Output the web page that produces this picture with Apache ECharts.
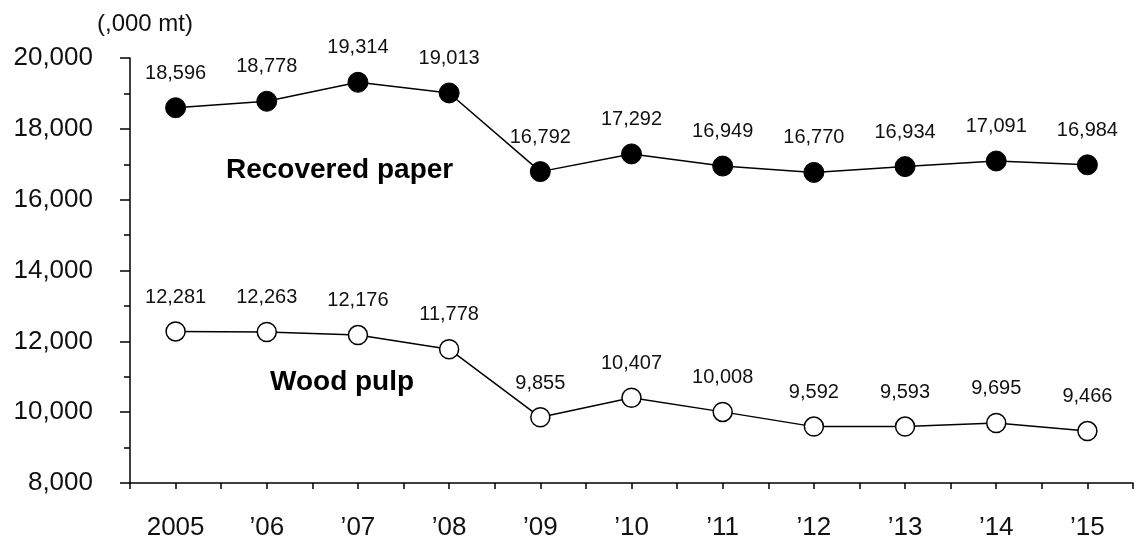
<!DOCTYPE html>
<html>
<head>
<meta charset="utf-8">
<script src="https://cdn.jsdelivr.net/npm/echarts@6/dist/echarts.min.js"></script>
<style>
  html, body { margin: 0; padding: 0; background: #fff; }
  #chart { width: 1136px; height: 541px; }
</style>
</head>
<body>
<div id="chart"></div>
<script>
  // data
  const years = ['2005', '\u201906', '\u201907', '\u201908', '\u201909', '\u201910', '\u201911', '\u201912', '\u201913', '\u201914', '\u201915'];
  const recoveredPaper = [18596, 18778, 19314, 19013, 16792, 17292, 16949, 16770, 16934, 17091, 16984];
  const woodPulp = [12281, 12263, 12176, 11778, 9855, 10407, 10008, 9592, 9593, 9695, 9466];
  const yTicks = { min: 8000, max: 20000, step: 2000 };

  const font = 'Liberation Sans, Arial, sans-serif';
  const fmt = v => v.toLocaleString('en-US');

  const chart = echarts.init(document.getElementById('chart'));

  const valueLabel = {
    show: true,
    position: 'top',
    distance: 14,
    color: '#111',
    fontFamily: font,
    fontSize: 20,
    formatter: p => fmt(p.value)
  };

  chart.setOption({
    animation: false,
    grid: { left: 130, right: 3, top: 58, bottom: 58 },
    graphic: [
      { type: 'text', left: 97, top: 12, style: { text: '(,000 mt)', font: '24px ' + font, fill: '#111' } },
      { type: 'text', left: 226, top: 156, style: { text: 'Recovered paper', font: 'bold 28px ' + font, fill: '#000' } },
      { type: 'text', left: 270, top: 368, style: { text: 'Wood pulp', font: 'bold 28px ' + font, fill: '#000' } }
    ],
    xAxis: [
      {
        type: 'category',
        data: years,
        boundaryGap: true,
        axisLine: { lineStyle: { color: '#000', width: 1.5 } },
        axisTick: { show: false },
        axisLabel: { color: '#111', fontFamily: font, fontSize: 26, margin: 32 },
        splitLine: { show: false }
      },
      {
        // half-category ticks: boundaries and centres
        type: 'value',
        position: 'bottom',
        min: 0,
        max: years.length * 2,
        interval: 1,
        axisLine: { show: false },
        axisTick: { show: true, length: 6, lineStyle: { color: '#000', width: 1.5 } },
        axisLabel: { show: false },
        splitLine: { show: false }
      }
    ],
    yAxis: {
      type: 'value',
      min: yTicks.min,
      max: yTicks.max,
      interval: yTicks.step,
      axisLine: { show: true, lineStyle: { color: '#000', width: 1.5 } },
      axisTick: { show: true, length: 10, lineStyle: { color: '#000', width: 1.5 } },
      minorTick: { show: true, splitNumber: 2, length: 6, lineStyle: { color: '#000', width: 1.5 } },
      axisLabel: { color: '#111', fontFamily: font, fontSize: 26, margin: 37, formatter: v => fmt(v) },
      splitLine: { show: false }
    },
    series: [
      {
        name: 'Recovered paper',
        type: 'line',
        data: recoveredPaper,
        symbol: 'circle',
        symbolSize: 20,
        itemStyle: { color: '#000', borderColor: '#000', borderWidth: 1 },
        lineStyle: { color: '#000', width: 1.5 },
        label: valueLabel
      },
      {
        name: 'Wood pulp',
        type: 'line',
        data: woodPulp,
        symbol: 'circle',
        symbolSize: 19,
        itemStyle: { color: '#fff', borderColor: '#000', borderWidth: 1.5 },
        lineStyle: { color: '#000', width: 1.5 },
        label: valueLabel
      }
    ]
  });
</script>
</body>
</html>
